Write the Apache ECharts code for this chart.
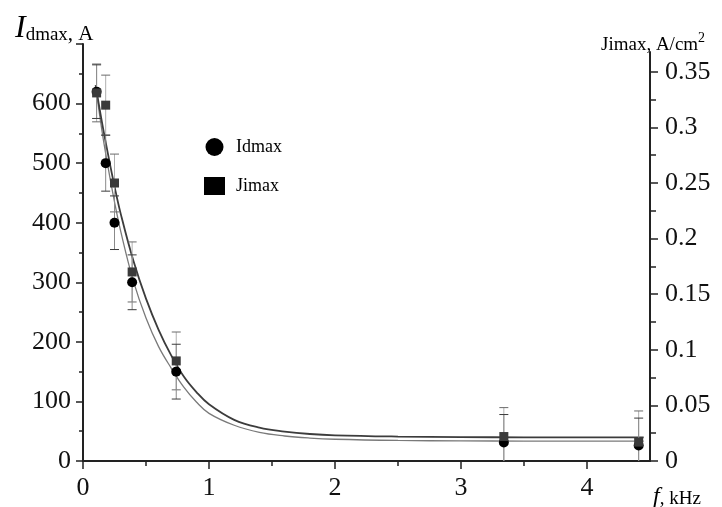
<!DOCTYPE html>
<html>
<head>
<meta charset="utf-8">
<script src="https://cdn.jsdelivr.net/npm/echarts@6/dist/echarts.min.js"></script>
<style>
  html, body { margin: 0; padding: 0; background: #fff; }
  #chart { width: 722px; height: 507px; }
</style>
</head>
<body>
<div id="chart"></div>
<script>
// measured points (frequency, kHz)
const freq = [0.108, 0.18, 0.25, 0.39, 0.74, 3.34, 4.41];
const idmax = [620, 500, 400, 300, 150, 31, 26];
const idErr = [45, 47, 45, 46, 46, 47, 46];
const jimax = [0.331, 0.320, 0.250, 0.170, 0.090, 0.022, 0.017];
const jiErr = [0.026, 0.027, 0.026, 0.027, 0.026, 0.026, 0.028];

// fitted curves
const fitX = [0.1, 0.15, 0.2, 0.25, 0.3, 0.4, 0.5, 0.6, 0.7, 0.8, 0.9, 1.0, 1.2, 1.4, 1.6, 1.8, 2.0, 2.5, 3.0, 3.5, 4.0, 4.45];
const idFit = [630, 555, 492, 435, 385, 302, 240, 192, 156, 124, 99, 80, 60, 48, 42, 38.5, 36.5, 34.5, 33.8, 33.5, 33.3, 33.2];
const jiFit = [0.338, 0.305, 0.275, 0.247, 0.222, 0.180, 0.146, 0.118, 0.095, 0.076, 0.062, 0.051, 0.037, 0.030, 0.0265, 0.0243, 0.0231, 0.022, 0.0215, 0.0213, 0.0212, 0.0212];

// tick labels
const xTicks = [0, 1, 2, 3, 4];
const xMinor = [0.5, 1.5, 2.5, 3.5];
const jTicks = [0, 0.05, 0.1, 0.15, 0.2, 0.25, 0.3, 0.35];
const jMinor = [0.025, 0.075, 0.125, 0.175, 0.225, 0.275, 0.325];

const serif = 'Liberation Serif';
const axisCol = '#222';

function errBars(lineColor, capColor) {
    return function (params, api) {
        let x = api.value(0), y = api.value(1), e = api.value(2);
        let lo = Math.max(y - e, 0);
        let pTop = api.coord([x, y + e]);
        let pBot = api.coord([x, lo]);
        let w = 4.5;
        let kids = [
            {type: 'line', shape: {x1: pTop[0], y1: pTop[1], x2: pBot[0], y2: pBot[1]}, style: {stroke: lineColor, lineWidth: 1}},
            {type: 'line', shape: {x1: pTop[0] - w, y1: pTop[1], x2: pTop[0] + w, y2: pTop[1]}, style: {stroke: capColor, lineWidth: 1}}
        ];
        if (y - e > 0) {
            kids.push({type: 'line', shape: {x1: pBot[0] - w, y1: pBot[1], x2: pBot[0] + w, y2: pBot[1]}, style: {stroke: capColor, lineWidth: 1}});
        }
        return {type: 'group', children: kids};
    };
}

let chart = echarts.init(document.getElementById('chart'));

let option = {
    backgroundColor: '#fff',
    animation: false,
    title: [
        {
            left: 10, top: 6,
            text: '{i|I}{s|dmax}{a|, A}',
            textStyle: {
                fontWeight: 'normal',
                rich: {
                    i: {fontFamily: serif, fontStyle: 'italic', fontWeight: 'normal', fontSize: 32, color: '#000', lineHeight: 34, verticalAlign: 'bottom'},
                    s: {fontFamily: serif, fontWeight: 'normal', fontSize: 19, color: '#000', lineHeight: 24, verticalAlign: 'bottom'},
                    a: {fontFamily: serif, fontWeight: 'normal', fontSize: 21, color: '#000', lineHeight: 25, verticalAlign: 'bottom'}
                }
            }
        },
        {
            left: 596, top: 26,
            text: '{a|Jimax, A/cm}{b|2}',
            textStyle: {
                fontWeight: 'normal',
                rich: {
                    a: {fontFamily: serif, fontWeight: 'normal', fontSize: 19, color: '#000', lineHeight: 24, verticalAlign: 'bottom'},
                    b: {fontFamily: serif, fontWeight: 'normal', fontSize: 14, color: '#000', lineHeight: 14, verticalAlign: 'top'}
                }
            }
        },
        {
            left: 648, top: 478,
            text: '{f|f}{a|, kHz}',
            textStyle: {
                fontWeight: 'normal',
                rich: {
                    f: {fontFamily: serif, fontStyle: 'italic', fontWeight: 'normal', fontSize: 24, color: '#000', lineHeight: 26, verticalAlign: 'bottom'},
                    a: {fontFamily: serif, fontWeight: 'normal', fontSize: 19, color: '#000', lineHeight: 23, verticalAlign: 'bottom'}
                }
            }
        }
    ],
    legend: {
        left: 199, top: 133,
        orient: 'vertical',
        itemWidth: 21, itemHeight: 18,
        itemGap: 21,
        textStyle: {fontFamily: serif, fontSize: 18, color: '#000', padding: [0, 0, 0, 6]},
        data: [
            {name: 'Idmax', icon: 'circle', itemStyle: {color: '#000'}},
            {name: 'Jimax', icon: 'rect', itemStyle: {color: '#000'}}
        ]
    },
    grid: [
        {left: 83, right: 72, top: 44, bottom: 46},
        {left: 83, right: 72, top: 52, bottom: 46}
    ],
    xAxis: [
        {
            type: 'value', gridIndex: 0, min: 0, max: 4.5, interval: 1,
            axisLine: {onZero: false, lineStyle: {color: axisCol, width: 2}},
            axisTick: {length: 8, lineStyle: {color: axisCol, width: 1.5}, customValues: xTicks},
            axisLabel: {fontFamily: serif, fontSize: 26, color: '#111', margin: 14, customValues: xTicks},
            splitLine: {show: false}
        },
        {
            type: 'value', gridIndex: 1, min: 0, max: 4.5, show: false
        },
        {
            // minor ticks of the frequency axis
            type: 'value', gridIndex: 0, min: 0, max: 4.5, position: 'bottom',
            axisLine: {show: false, onZero: false},
            axisTick: {length: 5, lineStyle: {color: axisCol, width: 1.5}, customValues: xMinor},
            axisLabel: {show: false},
            splitLine: {show: false}
        }
    ],
    yAxis: [
        {
            type: 'value', gridIndex: 0, min: 0, max: 700, interval: 100,
            axisLine: {show: true, onZero: false, lineStyle: {color: axisCol, width: 2}},
            axisTick: {show: true, length: 7, lineStyle: {color: axisCol, width: 1.5}},
            minorTick: {show: true, splitNumber: 2, length: 4, lineStyle: {color: axisCol, width: 1.5}},
            axisLabel: {fontFamily: serif, fontSize: 26, color: '#111', margin: 12, showMaxLabel: false},
            splitLine: {show: false}
        },
        {
            type: 'value', gridIndex: 1, position: 'right', min: 0, max: 0.3678,
            axisLine: {show: true, onZero: false, lineStyle: {color: axisCol, width: 2}},
            axisTick: {show: true, length: 8, lineStyle: {color: axisCol, width: 1.5}, customValues: jTicks},
            axisLabel: {fontFamily: serif, fontSize: 26, color: '#111', margin: 15, customValues: jTicks,
                formatter: function (v) { return String(Math.round(v * 100) / 100); }},
            splitLine: {show: false}
        },
        {
            // minor ticks of the current density axis
            type: 'value', gridIndex: 1, position: 'right', min: 0, max: 0.3678,
            axisLine: {show: false, onZero: false},
            axisTick: {show: true, length: 6, lineStyle: {color: axisCol, width: 1.5}, customValues: jMinor},
            axisLabel: {show: false},
            splitLine: {show: false}
        }
    ],
    series: [
        {
            name: 'I fit', type: 'line', xAxisIndex: 0, yAxisIndex: 0,
            showSymbol: false, smooth: 0.4, silent: true, z: 2,
            lineStyle: {color: '#7a7a7a', width: 1.3},
            data: fitX.map((x, i) => [x, idFit[i]])
        },
        {
            name: 'J fit', type: 'line', xAxisIndex: 1, yAxisIndex: 1,
            showSymbol: false, smooth: 0.4, silent: true, z: 2,
            lineStyle: {color: '#3c3c3c', width: 1.8},
            data: fitX.map((x, i) => [x, jiFit[i]])
        },
        {
            name: 'J err', type: 'custom', xAxisIndex: 1, yAxisIndex: 1, z: 3,
            renderItem: errBars('#b0b0b0', '#6a6a6a'),
            data: freq.map((x, i) => [x, jimax[i], jiErr[i]])
        },
        {
            name: 'I err', type: 'custom', xAxisIndex: 0, yAxisIndex: 0, z: 3,
            renderItem: errBars('#8a8a8a', '#3a3a3a'),
            data: freq.map((x, i) => [x, idmax[i], idErr[i]])
        },
        {
            name: 'Idmax', type: 'scatter', xAxisIndex: 0, yAxisIndex: 0, z: 5,
            symbol: 'circle', symbolSize: 10,
            itemStyle: {color: '#000', opacity: 1},
            data: freq.map((x, i) => [x, idmax[i]])
        },
        {
            name: 'Jimax', type: 'scatter', xAxisIndex: 1, yAxisIndex: 1, z: 6,
            symbol: 'rect', symbolSize: 9,
            itemStyle: {color: '#3a3a3a', opacity: 1},
            data: freq.map((x, i) => [x, jimax[i]])
        }
    ]
};

chart.setOption(option);
</script>
</body>
</html>
